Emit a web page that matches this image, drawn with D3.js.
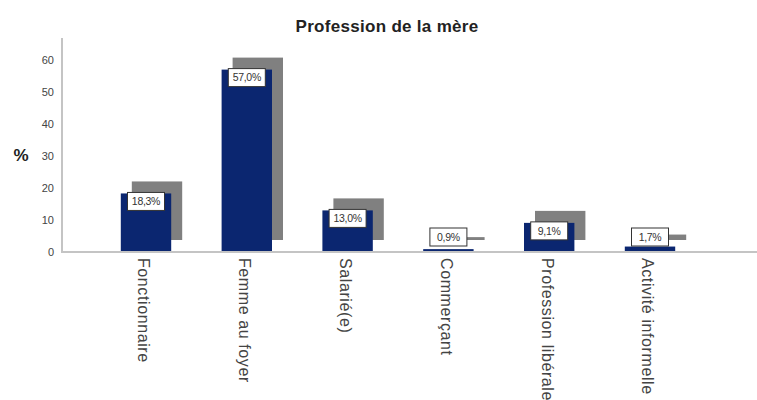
<!DOCTYPE html>
<html>
<head>
<meta charset="utf-8">
<script src="https://cdn.jsdelivr.net/npm/d3@7"></script>
<style>
  body { margin: 0; background: #fff; }
  svg { font-family: "Liberation Sans", Arial, sans-serif; }
</style>
</head>
<body>
<div id="chart"></div>
<script>
var categories = ["Fonctionnaire", "Femme au foyer", "Salarié(e)", "Commerçant", "Profession libérale", "Activité informelle"];
var percents = [18.3, 57.0, 13.0, 0.9, 9.1, 1.7];
var yTicks = [0, 10, 20, 30, 40, 50, 60];

var width = 757, height = 400;
var baseY = 252, topY = 38, axisX = 62;

var svg = d3.select("#chart").append("svg")
    .attr("width", width)
    .attr("height", height);

// y scale: 10 units ~ 32px
var y = d3.scaleLinear()
    .domain([0, 66.875])
    .range([baseY, topY]);

var x = d3.scaleBand()
    .domain(categories)
    .range([95.6, 700.4])
    .paddingInner(0.5)
    .paddingOuter(0.25);

// title
svg.append("text")
    .attr("x", 387)
    .attr("y", 32)
    .attr("text-anchor", "middle")
    .style("font-size", "17px")
    .style("font-weight", "bold")
    .style("letter-spacing", "0.3px")
    .style("fill", "#222")
    .text("Profession de la mère");

// y axis label
svg.append("text")
    .attr("x", 21)
    .attr("y", 161)
    .attr("text-anchor", "middle")
    .style("font-size", "17px")
    .style("font-weight", "bold")
    .style("fill", "#222")
    .text("%");

// shadow bars (offset up-right)
var dx = 11, dy = -12;
svg.selectAll("rect.shadow")
    .data(percents)
    .enter().append("rect")
    .attr("class", "shadow")
    .attr("x", function(d, i) { return x(categories[i]) + dx; })
    .attr("y", function(d) { return y(d) + dy; })
    .attr("width", x.bandwidth())
    .attr("height", function(d) { return y(0) - y(d); })
    .attr("fill", "#808080");

// main bars
svg.selectAll("rect.bar")
    .data(percents)
    .enter().append("rect")
    .attr("class", "bar")
    .attr("x", function(d, i) { return x(categories[i]); })
    .attr("y", function(d) { return y(d); })
    .attr("width", x.bandwidth())
    .attr("height", function(d) { return y(0) - y(d); })
    .attr("fill", "#0b2670");

// axes
var yaxis = d3.axisLeft(y).tickValues(yTicks).tickSize(0).tickPadding(8);
var gy = svg.append("g")
    .attr("transform", "translate(" + axisX + ",0)")
    .call(yaxis);
gy.select(".domain").remove();
gy.selectAll("text")
    .style("font-size", "11px")
    .style("fill", "#444")
    .style("font-family", "'Liberation Sans', Arial, sans-serif");

svg.append("line")
    .attr("x1", axisX).attr("x2", axisX)
    .attr("y1", topY).attr("y2", baseY + 1)
    .attr("stroke", "#c4c4c4")
    .attr("stroke-width", 2);

var xaxis = d3.axisBottom(x).tickSize(0).tickPadding(0);
var gx = svg.append("g")
    .attr("transform", "translate(0," + baseY + ")")
    .call(xaxis);
gx.select(".domain").remove();
gx.selectAll("text")
    .attr("transform", "rotate(90)")
    .attr("x", 6)
    .attr("y", 2)
    .attr("dy", "0.35em")
    .style("text-anchor", "start")
    .style("font-size", "16px")
    .style("letter-spacing", "0.6px")
    .style("fill", "#444")
    .style("font-family", "'Liberation Sans', Arial, sans-serif");

svg.append("line")
    .attr("x1", axisX - 1).attr("x2", width)
    .attr("y1", baseY).attr("y2", baseY)
    .attr("stroke", "#c4c4c4")
    .attr("stroke-width", 2);

// value labels in boxes
var boxW = 37, boxH = 18;
var fmt = function(v) { return d3.format(".1f")(v).replace(".", ",") + "%"; };
var labels = svg.selectAll("g.lbl")
    .data(percents)
    .enter().append("g")
    .attr("class", "lbl")
    .attr("transform", function(d, i) {
        var cx = x(categories[i]) + x.bandwidth() / 2;
        var top = Math.min(y(d) - 1, y(0) - 24);
        return "translate(" + (cx - boxW / 2) + "," + top + ")";
    });
labels.append("rect")
    .attr("width", boxW)
    .attr("height", boxH)
    .attr("fill", "#fff")
    .attr("stroke", "#333")
    .attr("stroke-width", 1);
labels.append("text")
    .attr("x", boxW / 2)
    .attr("y", boxH / 2)
    .attr("dy", "0.35em")
    .attr("text-anchor", "middle")
    .style("font-size", "10.5px")
    .style("letter-spacing", "-0.3px")
    .style("fill", "#333")
    .text(fmt);
</script>
</body>
</html>
